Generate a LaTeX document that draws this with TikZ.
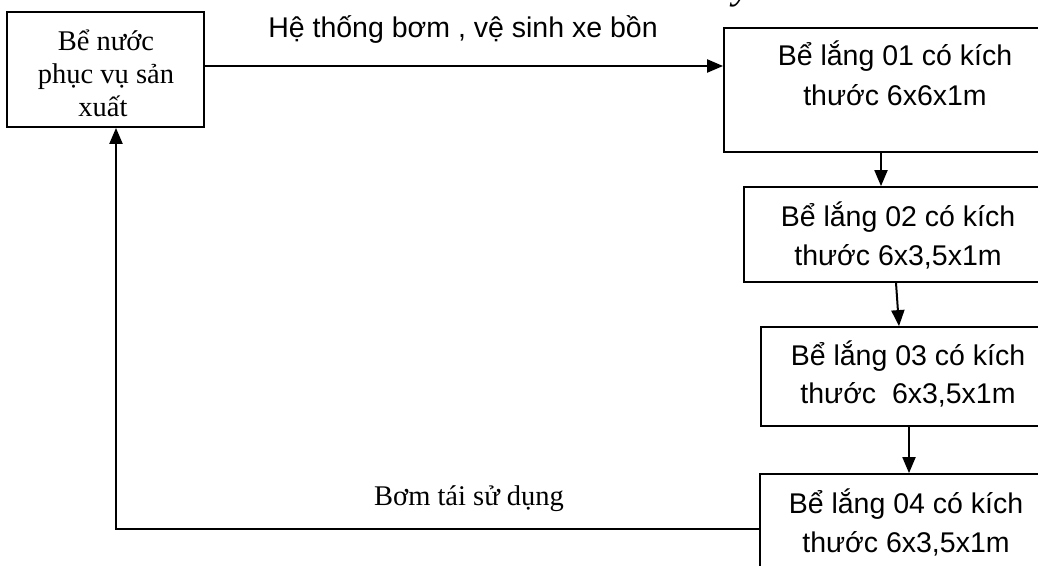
\documentclass[tikz,border=0pt]{standalone}
\usepackage{fontspec}
\setmainfont{Liberation Serif}
\newfontfamily\arialf{Liberation Sans}
\usetikzlibrary{arrows.meta}
\tikzset{
  boxstyle/.style={draw=black, line width=1.8pt, rectangle, inner sep=0pt},
  arr/.style={draw=black, line width=2pt, -{Triangle[length=16pt,width=13pt]}},
  sans/.style={font=\arialf\fontsize{28.5}{33}\selectfont, anchor=base, inner sep=0pt},
  serif/.style={font=\fontsize{28.5}{33}\selectfont, anchor=base, inner sep=0pt},
}
\begin{document}
\begin{tikzpicture}[x=1pt,y=-1pt]
\useasboundingbox (0,0) rectangle (1038,565);
\clip (0,0) rectangle (1038,565);
\fill[white] (0,0) rectangle (1038,565);

% boxes
\node[boxstyle, minimum width=197pt, minimum height=115pt] (A) at (105.5,69.5) {};
\node[boxstyle, minimum width=342pt, minimum height=124pt] (b1) at (895,90) {};
\node[boxstyle, minimum width=308pt, minimum height=95pt] (b2) at (898,234.5) {};
\node[boxstyle, minimum width=294pt, minimum height=99pt] (b3) at (908,376.5) {};
\node[boxstyle, minimum width=292pt, minimum height=110pt] (b4) at (906,529) {};

% texts
\node[serif] (a1) at (106,50) {Bể nước};
\node[serif] (a2) at (106,83) {phục vụ sản};
\node[serif] (a3) at (103,116) {xuất};

\node[sans] (t1a) at (895,65) {Bể lắng 01 có kích};
\node[sans] (t1b) at (895,105) {thước 6x6x1m};
\node[sans] (t2a) at (898,226) {Bể lắng 02 có kích};
\node[sans] (t2b) at (898,265) {thước 6x3,5x1m};
\node[sans] (t3a) at (908,365) {Bể lắng 03 có kích};
\node[sans] (t3b) at (908,403) {thước~~6x3,5x1m};
\node[sans] (t4a) at (906,513) {Bể lắng 04 có kích};
\node[sans] (t4b) at (906,552) {thước 6x3,5x1m};

\node[sans] (lab1) at (463,37) {Hệ thống bơm , vệ sinh xe bồn};
\node[serif] (lab2) at (469,505) {Bơm tái sử dụng};

\node[font=\fontsize{40}{40}\selectfont\itshape, anchor=base west, inner sep=0pt] (yfrag) at (733,-2) {y};

% connectors
\draw[arr] ([yshift=3.5pt]A.east) -- ([yshift=3.5pt]A.east -| b1.west);
\draw[arr] ([xshift=-14pt]b1.south) -- ([xshift=-17pt]b2.north);
\draw[arr] ([xshift=-2pt]b2.south) -- ([xshift=-9pt]b3.north);
\draw[arr] ([xshift=1pt]b3.south) -- ([xshift=3pt]b4.north);
\draw[arr] (b4.west) -| ([xshift=10.5pt]A.south);
\end{tikzpicture}
\end{document}
